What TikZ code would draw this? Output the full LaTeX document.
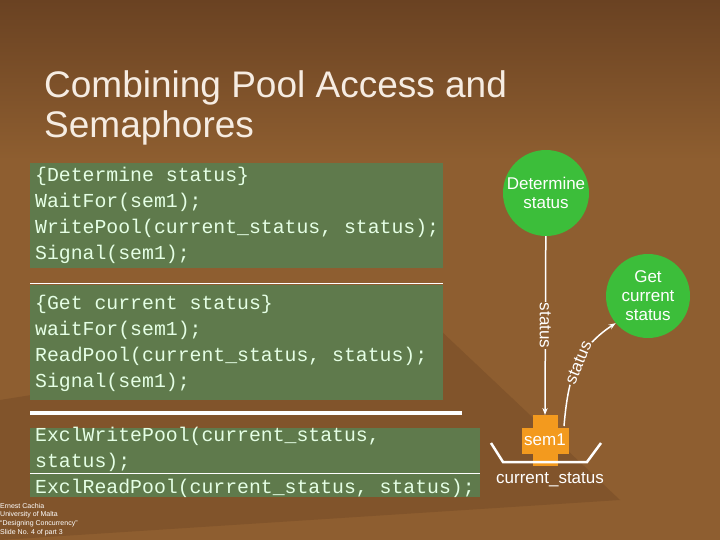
\documentclass[tikz,border=0pt]{standalone}
\usepackage{fontspec}
\setmainfont{Liberation Sans}
\setmonofont{Liberation Mono}
\usetikzlibrary{arrows.meta}
\begin{document}
\begin{tikzpicture}[x=1pt,y=-1pt,
  panel/.style={fill=panelgreen,draw=none},
  code/.style={anchor=north west,font=\ttfamily\fontsize{19.8}{26}\selectfont,text=white!90!green,align=left,inner sep=0},
  proc/.style={circle,fill=procgreen,text=white,minimum size=86pt,inner sep=0,align=center,font=\fontsize{17}{19}\selectfont},
  flow/.style={white,line width=1.5pt,-{Stealth[length=7pt]}},
  lbl/.style={text=white,font=\fontsize{17}{19}\selectfont}]
\definecolor{bg}{HTML}{8E5E30}
\definecolor{bgdark}{HTML}{6A4222}
\definecolor{panelgreen}{HTML}{5F7A4C}
\definecolor{procgreen}{HTML}{3CBE3A}
\definecolor{semorange}{HTML}{F39A1E}
\useasboundingbox (0,0) rectangle (720,540);
\shade[top color=bgdark,bottom color=bg] (0,0) rectangle (720,160);
\fill[bg] (0,160) rectangle (720,540);
\fill[bgdark,opacity=0.35] (0,400) -- (440,330) -- (620,500) -- (0,540) -- cycle;
\node[anchor=north west,text=white!85!brown,align=left,font=\fontsize{37}{40}\selectfont,inner sep=0] (title) at (44,70) {Combining Pool Access and\\Semaphores};
% panels
\fill[panel] (30,163) rectangle (443,268);
\fill[panel] (30,285) rectangle (443,400);
\fill[panel] (30,428) rectangle (480,497);
\draw[white,line width=0.8pt] (30,283) -- (443,283);
\draw[white,line width=4pt] (30,413) -- (462,413);
\draw[white,line width=0.8pt] (30,473) -- (480,473);
\node[code] (c1) at (35,167) {\{Determine status\}\\WaitFor(sem1);\\WritePool(current\_status, status);\\Signal(sem1);};
\node[code] (c2) at (35,295) {\{Get current status\}\\waitFor(sem1);\\ReadPool(current\_status, status);\\Signal(sem1);};
\node[code] (c3) at (35,427) {ExclWritePool(current\_status,\\status);\\ExclReadPool(current\_status, status);};
% diagram
\node[proc] (det) at (546,193) {Determine\\status};
\node[proc,minimum size=84pt] (get) at (648,296) {Get\\current\\status};
\fill[semorange] (533,415) rectangle (558,466);
\fill[semorange] (522,428) rectangle (569,454);
\node[text=white,font=\fontsize{17}{19}\selectfont,inner sep=0] (sem) at (545,440) {sem1};
\coordinate (semtop) at (545,415);
\coordinate (semr) at (564,426);
\draw[white,line width=2.5pt] (491,443) -- (503,462) -- (587,462) -- (601,443);
\node[lbl] (pool) at (550,480) {current\_status};
\draw[flow] (det) -- node[lbl,rotate=-90,fill=bg,inner sep=1pt] {status} (semtop);
\draw[flow] (semr) .. controls (568,380) and (575,350) .. node[lbl,rotate=68,pos=0.55,fill=bg,inner sep=1pt] {status} (get.220);
\node[anchor=north west,align=left,inner sep=0,text=white,font=\fontsize{7}{8.6}\selectfont] (foot) at (0,503) {Ernest Cachia\\University of Malta\\``Designing Concurrency''\\Slide No. 4 of part 3};
\end{tikzpicture}
\end{document}
